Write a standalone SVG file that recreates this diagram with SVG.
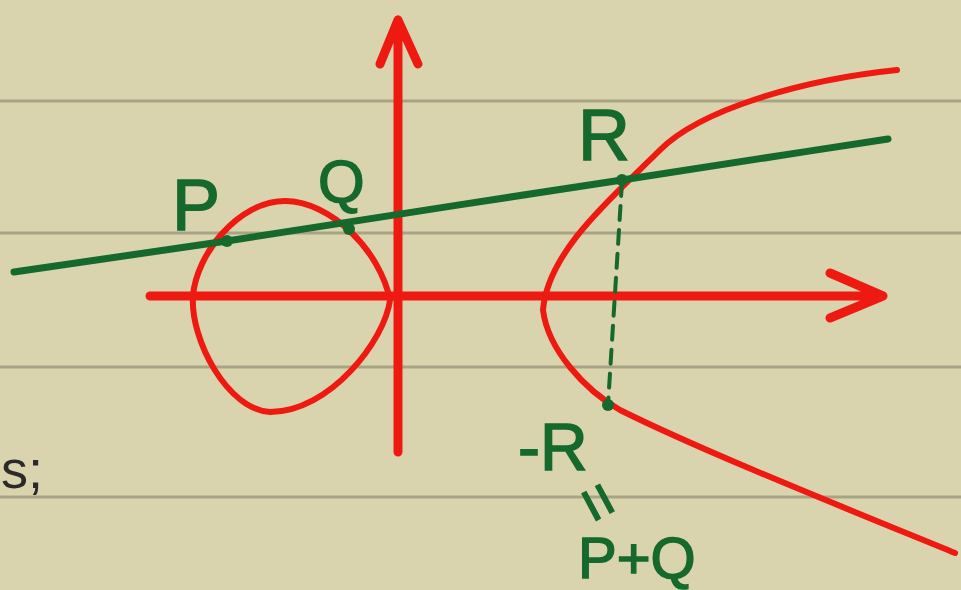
<svg xmlns="http://www.w3.org/2000/svg" width="961" height="590" viewBox="0 0 961 590">
<style>
.rule{stroke:#a9a385;stroke-width:3}
.red{fill:none;stroke:#ee1a12;stroke-linecap:round;stroke-linejoin:round}
.grn{fill:none;stroke:#16692c;stroke-linecap:round}
.lbl{font-family:"Liberation Sans",Arial,sans-serif;fill:#16692c;stroke:#16692c;stroke-width:1.5}
.dot{fill:#16692c}
</style>
<rect width="961" height="590" fill="#d9d4ae"/>
<g id="ruling">
<line class="rule" x1="0" y1="101" x2="961" y2="101"/>
<line class="rule" x1="0" y1="233" x2="961" y2="233"/>
<line class="rule" x1="0" y1="367" x2="961" y2="367"/>
<line class="rule" x1="0" y1="497" x2="961" y2="497"/>
</g>
<text x="1" y="488" font-family="Liberation Sans,Arial,sans-serif" font-size="54" fill="#2b2a28">s;</text>
<g id="axes">
<path class="red" stroke-width="9" d="M398 452 L398 20 M380 64 L398 20 L418 64"/>
<path class="red" stroke-width="9" d="M150 296 L883 296 M830 273 L883 296 L830 318"/>
</g>
<g id="curve">
<path class="red" stroke-width="6" d="M193 296 C196 255 238 201 285 201 C330 201 380 250 390 300 C385 340 330 412 270 412 C228 410 190 340 193 296 Z"/>
<path class="red" stroke-width="6" d="M897 70 C800 80 700 110 660 150 C615 195 548 250 543 310 C548 350 585 390 620 410 C700 450 850 510 955 553"/>
</g>
<g id="connectors">
<path class="grn" stroke-width="7" d="M14 272 C120 257 180 248 227 241 S500 198 622 180 S800 152 888 139"/>
<line class="grn" stroke-width="4" x1="622" y1="182" x2="608" y2="405" stroke-dasharray="14 10"/>
</g>
<g id="P"><circle class="dot" cx="227" cy="241" r="6"/><text class="lbl" x="172" y="230" font-size="72">P</text></g>
<g id="Q"><circle class="dot" cx="349" cy="229" r="6"/><text class="lbl" x="318" y="202" font-size="60">Q</text></g>
<g id="R"><circle class="dot" cx="622" cy="180" r="6"/><text class="lbl" x="578" y="160" font-size="72">R</text></g>
<g id="negR"><circle class="dot" cx="608" cy="405" r="6"/><text class="lbl" x="518" y="470" font-size="66">-R</text>
<text class="lbl" x="0" y="0" font-size="62" transform="translate(580,512) rotate(62)" text-anchor="middle">=</text>
<text class="lbl" x="578" y="578" font-size="58">P+Q</text></g>
</svg>
